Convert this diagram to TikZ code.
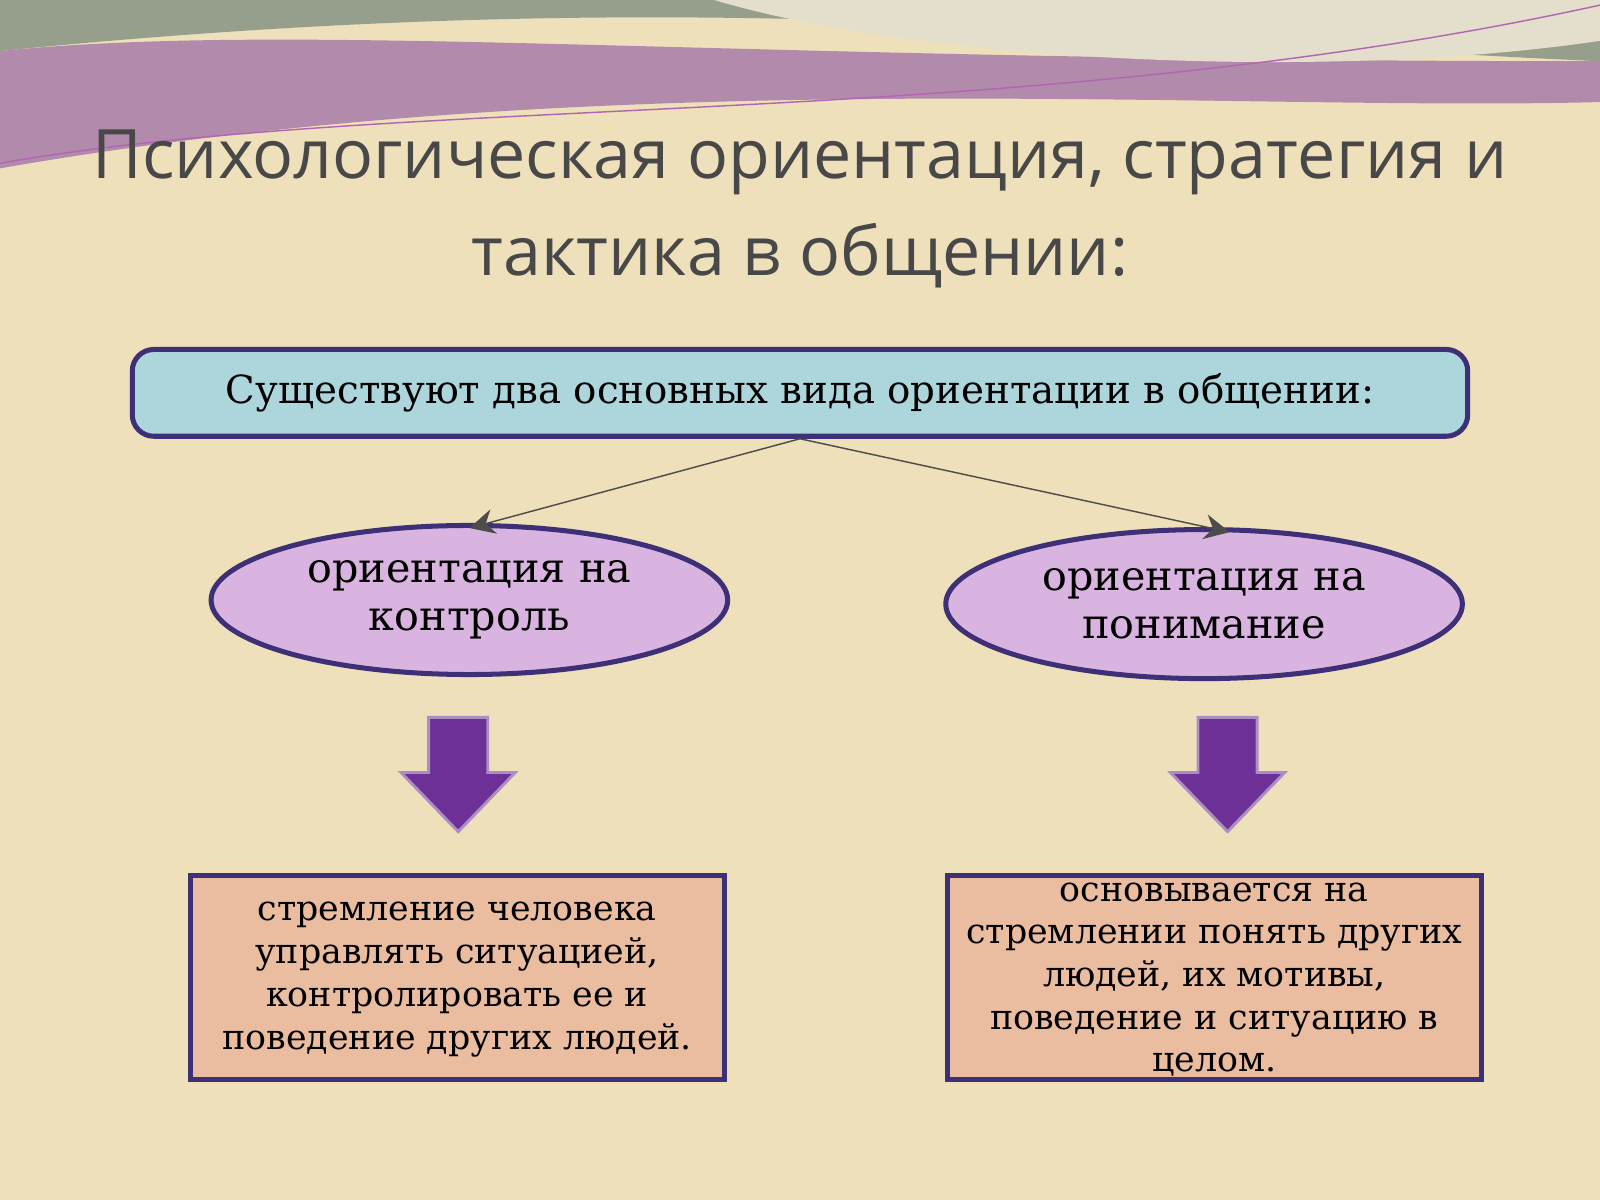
\documentclass[tikz,border=0pt]{standalone}
\usepackage{fontspec}
\setmainfont{DejaVu Serif}
\newfontfamily\titlefont{Open Sans}
\usetikzlibrary{arrows.meta, positioning, shapes.geometric}
\definecolor{paper}{RGB}{238,224,186}
\definecolor{topfill}{RGB}{172,214,220}
\definecolor{ovalfill}{RGB}{218,180,224}
\definecolor{boxfill}{RGB}{234,188,160}
\definecolor{edge}{RGB}{62,48,118}
\definecolor{arrowfill}{RGB}{108,48,150}
\definecolor{titlegray}{RGB}{72,72,72}
\definecolor{waveA}{RGB}{150,158,140}
\definecolor{waveB}{RGB}{178,138,172}
\definecolor{waveC}{RGB}{228,222,205}

\begin{document}
\begin{tikzpicture}[
    x=0.01cm, y=-0.01cm,
    every node/.style={align=center, text=black},
    topbox/.style={rectangle, draw=edge, line width=1.4pt, rounded corners=6pt, fill=topfill, minimum width=13.08cm, minimum height=0.85cm, font=\fontsize{10.8}{13}\selectfont},
    oval/.style={ellipse, draw=edge, line width=1.4pt, fill=ovalfill, minimum width=5.06cm, minimum height=1.46cm, inner sep=0pt, font=\fontsize{11.5}{13.4}\selectfont},
    box/.style={rectangle, draw=edge, line width=1.4pt, fill=boxfill, minimum width=5.23cm, minimum height=1.99cm},
    boxtext/.style={font=\fontsize{9.7}{11.9}\selectfont},
    down/.style={draw=arrowfill!55, line width=0.8pt, fill=arrowfill},
    arrow/.style={-{Stealth[length=7pt,width=7pt]}, thin, draw=black!70}
]
% Background
\fill[paper] (0,0) rectangle (1568,1176);
\useasboundingbox (0,0) rectangle (1568,1176);
\fill[waveA] (0,0) -- (1568,0) -- (1568,60) .. controls (1100,40) and (700,-20) .. (0,50) -- cycle;
\fill[waveB] (0,50) .. controls (300,20) and (700,60) .. (1568,60) -- (1568,100) .. controls (1200,110) and (600,60) .. (0,165) -- cycle;
\fill[waveC] (700,0) .. controls (900,60) and (1300,80) .. (1568,40) -- (1568,0) -- cycle;
\draw[violet!60, thin] (0,160) .. controls (400,90) and (1000,130) .. (1568,5);

% Title
\node[font=\titlefont\fontsize{19}{27}\selectfont, text=titlegray] (title) at (784,205) {Психологическая ориентация, стратегия и\\тактика в общении:};

% Nodes
\node[topbox] (kinds) at (784,385) {Существуют два основных вида ориентации в общении:};
\node[oval] (control) at (460,588) {ориентация на\\контроль};
\node[oval] (understand) at (1180,592) {ориентация на\\понимание};
\node[box] (controlText) at (448,958) {};
\node[boxtext] (controlLines) at (448,960) {стремление человека\\управлять ситуацией,\\контролировать ее и\\поведение других людей.};
\node[box] (understandText) at (1190,958) {};
\node[boxtext] (understandLines) at (1190,960) {основывается на\\стремлении понять других\\людей, их мотивы,\\поведение и ситуацию в\\целом.};

% Block arrows
\foreach \cx in {449,1203}
  \draw[down] (\cx-29,703) -- (\cx+29,703) -- (\cx+29,757) -- (\cx+56,757) -- (\cx,815)
    -- (\cx-56,757) -- (\cx-29,757) -- cycle;

% Arrows
\draw[arrow] (kinds.south) -- ([yshift=-0.05cm]control.north);
\draw[arrow] (kinds.south) -- ([xshift=0.25cm,yshift=-0.05cm]understand.north);

\end{tikzpicture}
\end{document}
